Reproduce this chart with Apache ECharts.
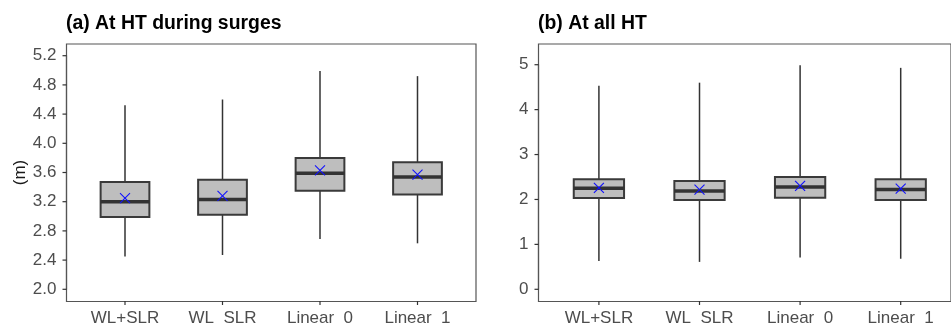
<!DOCTYPE html>
<html>
<head>
<meta charset="utf-8">
<script src="https://cdn.jsdelivr.net/npm/echarts@6/dist/echarts.min.js"></script>
<style>
  html, body { margin: 0; padding: 0; background: #fff; }
</style>
</head>
<body>
<div id="main" style="width: 951px;height:327px;"></div>
<script type="text/javascript">
    // categories, axis limits and tick labels
    var categories = ['WL+SLR', 'WL  SLR', 'Linear  0', 'Linear  1'];
    var surgeLimits = [2.0, 5.2];
    var surgeTicks = [2.0, 2.4, 2.8, 3.2, 3.6, 4.0, 4.4, 4.8, 5.2];
    var allLimits = [0, 5.2];
    var allTicks = [0, 1, 2, 3, 4, 5];

    // (a) at HT during surges
    var surgeMin  = [2.45, 2.47, 2.69, 2.63];
    var surgeQ1   = [2.99, 3.02, 3.35, 3.30];
    var surgeMed  = [3.20, 3.23, 3.59, 3.54];
    var surgeQ3   = [3.47, 3.50, 3.80, 3.74];
    var surgeMax  = [4.52, 4.60, 4.99, 4.92];
    var surgeMean = [3.25, 3.28, 3.63, 3.57];

    // (b) at all HT
    var allMin  = [0.63, 0.61, 0.71, 0.68];
    var allQ1   = [2.03, 1.99, 2.04, 1.99];
    var allMed  = [2.25, 2.19, 2.28, 2.22];
    var allQ3   = [2.45, 2.41, 2.50, 2.45];
    var allMax  = [4.53, 4.60, 4.99, 4.93];
    var allMean = [2.26, 2.22, 2.30, 2.24];

    function rows(mn, q1, md, q3, mx, mean) {
        return categories.map(function (c, i) {
            return [i, mn[i], q1[i], md[i], q3[i], mx[i], mean[i]];
        });
    }

    function renderBox(params, api) {
        var x = api.value(0);
        var pMin = api.coord([x, api.value(1)]);
        var pQ1 = api.coord([x, api.value(2)]);
        var pMed = api.coord([x, api.value(3)]);
        var pQ3 = api.coord([x, api.value(4)]);
        var pMax = api.coord([x, api.value(5)]);
        var pMean = api.coord([x, api.value(6)]);
        var half = api.size([1, 0])[0] * 0.25;
        var cx = pMin[0];
        var s = 5;
        return {
            type: 'group',
            children: [
                { type: 'line', shape: { x1: cx, y1: pMax[1], x2: cx, y2: pMin[1] },
                  style: { stroke: '#333', lineWidth: 1.5 } },
                { type: 'rect', shape: { x: cx - half, y: pQ3[1], width: half * 2, height: pQ1[1] - pQ3[1] },
                  style: { fill: '#bebebe', stroke: '#3a3a3a', lineWidth: 2 } },
                { type: 'line', shape: { x1: cx - half, y1: pMed[1], x2: cx + half, y2: pMed[1] },
                  style: { stroke: '#333', lineWidth: 3.5 } },
                { type: 'line', shape: { x1: cx - s, y1: pMean[1] - s, x2: cx + s, y2: pMean[1] + s },
                  style: { stroke: '#1010ff', lineWidth: 1.1 } },
                { type: 'line', shape: { x1: cx - s, y1: pMean[1] + s, x2: cx + s, y2: pMean[1] - s },
                  style: { stroke: '#1010ff', lineWidth: 1.1 } }
            ]
        };
    }

    // tick marks drawn on the frame edges (y ticks on the left, x ticks below)
    function tickSeries(axisIdx, inX, inBottom, yTicks) {
        var tickLine = { stroke: '#333', lineWidth: 1.2 };
        return [
            { type: 'custom', xAxisIndex: axisIdx, yAxisIndex: axisIdx, clip: false, silent: true,
              encode: { x: 0, y: 1 },
              data: yTicks.map(function (v) { return [0, v]; }),
              renderItem: function (params, api) {
                  var y = api.coord([0, api.value(1)])[1];
                  var x = params.coordSys.x - inX;
                  return { type: 'line', shape: { x1: x - 4, y1: y, x2: x, y2: y }, style: tickLine };
              } },
            { type: 'custom', xAxisIndex: axisIdx, yAxisIndex: axisIdx, clip: false, silent: true,
              encode: { x: 0, y: 1 },
              data: categories.map(function (c, i) { return [i, yTicks[0]]; }),
              renderItem: function (params, api) {
                  var x = api.coord([api.value(0), api.value(1)])[0];
                  var y = params.coordSys.y + params.coordSys.height + inBottom;
                  return { type: 'line', shape: { x1: x, y1: y, x2: x, y2: y + 4 }, style: tickLine };
              } }
        ];
    }

    var labelStyle = { color: '#4d4d4d', fontSize: 17, fontFamily: 'Liberation Sans' };
    function lineStyle() { return { show: true, onZero: false, lineStyle: { color: '#555', width: 1.2 } }; }

    // panel frames (ggplot-like expanded limits: 5% on y, 0.6 band on x)
    var panels = [
        { left: 66.5, width: 409.5, limits: surgeLimits, ticks: surgeTicks, digits: 1, name: '(m)' },
        { left: 538.5, width: 424.5, limits: allLimits, ticks: allTicks, digits: 0, name: '' }
    ];
    var frameTop = 44, frameH = 257.5;

    var grids = [], xAxes = [], yAxes = [], tickSeriesList = [];
    panels.forEach(function (p, k) {
        var span = p.limits[1] - p.limits[0];
        var pad = span * 0.05;
        var lo = p.limits[0] - pad, hi = p.limits[1] + pad;
        var pxPerVal = frameH / (hi - lo);
        var unit = p.width / 4.2;
        var inX = unit * 0.1;
        var t0 = p.ticks[0], t1 = p.ticks[p.ticks.length - 1];
        var inTop = (hi - t1) * pxPerVal;
        var inBottom = (t0 - lo) * pxPerVal;
        // frame grid
        grids.push({ left: p.left, top: frameTop, width: p.width, height: frameH,
                     show: true, borderColor: '#555', borderWidth: 1.2, backgroundColor: 'transparent' });
        xAxes.push({ type: 'value', gridIndex: 2 * k, show: false, min: 0, max: 1 });
        yAxes.push({ type: 'value', gridIndex: 2 * k, show: false, min: 0, max: 1 });
        // data grid spans the tick range; its axes are pushed onto the frame with offset
        grids.push({ left: p.left + inX, top: frameTop + inTop,
                     width: p.width - 2 * inX, height: frameH - inTop - inBottom });
        xAxes.push({
            type: 'category', gridIndex: 2 * k + 1, data: categories, boundaryGap: true,
            offset: inBottom,
            axisLine: lineStyle(),
            axisTick: { show: false },
            axisLabel: Object.assign({ margin: 9 }, labelStyle)
        });
        yAxes.push({
            type: 'value', gridIndex: 2 * k + 1, min: t0, max: t1, interval: p.ticks[1] - p.ticks[0],
            offset: inX,
            name: p.name, nameLocation: 'middle', nameRotate: 90, nameGap: 40 - inX,
            nameTextStyle: { color: '#1a1a1a', fontSize: 17, fontFamily: 'Liberation Sans' },
            splitLine: { show: false },
            axisLine: lineStyle(),
            axisTick: { show: false },
            axisLabel: Object.assign({ margin: 10,
                formatter: (function (d) { return function (v) { return v.toFixed(d); }; })(p.digits) }, labelStyle)
        });
        tickSeriesList = tickSeriesList.concat(tickSeries(2 * k + 1, inX, inBottom, p.ticks));
    });

    var myChart = echarts.init(document.getElementById('main'));
    var option = {
        animation: false,
        backgroundColor: '#fff',
        title: [
            { text: '(a) At HT during surges', left: 66, top: 14, padding: 0,
              textStyle: { fontSize: 19.4, fontWeight: 'bold', color: '#000', fontFamily: 'Liberation Sans' } },
            { text: '(b) At all HT', left: 538, top: 14, padding: 0,
              textStyle: { fontSize: 19.4, fontWeight: 'bold', color: '#000', fontFamily: 'Liberation Sans' } }
        ],
        grid: grids,
        xAxis: xAxes,
        yAxis: yAxes,
        series: [
            { type: 'custom', xAxisIndex: 1, yAxisIndex: 1, renderItem: renderBox, clip: false,
              encode: { x: 0, y: [1, 2, 3, 4, 5, 6] },
              data: rows(surgeMin, surgeQ1, surgeMed, surgeQ3, surgeMax, surgeMean) },
            { type: 'custom', xAxisIndex: 3, yAxisIndex: 3, renderItem: renderBox, clip: false,
              encode: { x: 0, y: [1, 2, 3, 4, 5, 6] },
              data: rows(allMin, allQ1, allMed, allQ3, allMax, allMean) }
        ].concat(tickSeriesList)
    };
    myChart.setOption(option);
</script>
</body>
</html>
